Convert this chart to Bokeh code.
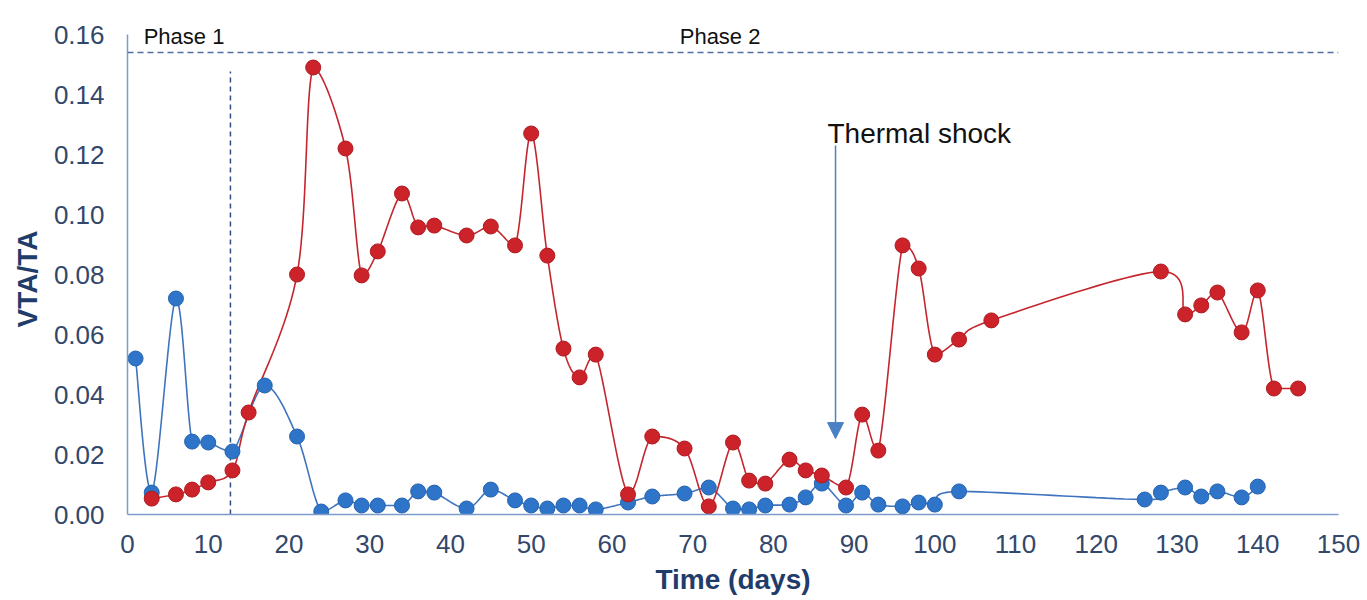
import numpy as np
from bokeh.plotting import figure
from bokeh.models import Range1d, Label, Span, Arrow, NormalHead, NumeralTickFormatter, Title
from bokeh.embed import file_html
from bokeh.resources import INLINE

# ---------------- data ----------------
blue_days = [1, 3, 6, 8, 10, 13, 17, 21, 24, 27, 29, 31, 34, 36, 38, 42, 45, 48, 50, 52, 54, 56, 58,
             62, 65, 69, 72, 75, 77, 79, 82, 84, 86, 89, 91, 93, 96, 98, 100, 103,
             126, 128, 131, 133, 135, 138, 140]
blue_vals = [0.052, 0.0073, 0.072, 0.0243, 0.024, 0.021, 0.043, 0.026, 0.001, 0.0047, 0.003, 0.003,
             0.003, 0.0077, 0.0073, 0.002, 0.0083, 0.0047, 0.003, 0.002, 0.003, 0.003, 0.0017,
             0.004, 0.006, 0.007, 0.009, 0.002, 0.0017, 0.003, 0.0033, 0.0057, 0.0103, 0.003, 0.0073,
             0.0033, 0.0027, 0.004, 0.0033, 0.0077,
             0.005, 0.0073, 0.009, 0.006, 0.0077, 0.0057, 0.0093]

red_days = [3, 6, 8, 10, 13, 15, 21, 23, 27, 29, 31, 34, 36, 38, 42, 45, 48, 50, 52, 54, 56, 58,
            62, 65, 69, 72, 75, 77, 79, 82, 84, 86, 89, 91, 93, 96, 98, 100, 103, 107,
            128, 131, 133, 135, 138, 140, 142, 145]
red_vals = [0.0053, 0.0067, 0.0083, 0.0107, 0.0147, 0.034, 0.080, 0.149, 0.122, 0.0797, 0.0877, 0.107,
            0.0957, 0.0963, 0.093, 0.096, 0.0897, 0.127, 0.0863, 0.0553, 0.0457, 0.0533,
            0.0067, 0.026, 0.022, 0.0027, 0.024, 0.0113, 0.0103, 0.0183, 0.0147, 0.013, 0.009,
            0.0333, 0.0213, 0.0897, 0.082, 0.0533, 0.0583, 0.0647,
            0.081, 0.0667, 0.0697, 0.074, 0.0607, 0.0747, 0.042, 0.042]

x_ticks = [0, 10, 20, 30, 40, 50, 60, 70, 80, 90, 100, 110, 120, 130, 140, 150]
y_ticks = [0.00, 0.02, 0.04, 0.06, 0.08, 0.10, 0.12, 0.14, 0.16]

phase_limit = 0.154        # horizontal dashed line
phase_split_day = 12.75    # vertical dashed line
phase_split_top = 0.1477
shock_day = 87.7
shock_from, shock_to = 0.123, 0.0253


def smooth(xs, ys, n=20):
    """Excel-like smoothed line (Bezier with 1/6 neighbour tangents)."""
    P = np.column_stack([xs, ys]).astype(float)
    outx, outy = [], []
    m = len(P)
    for i in range(m - 1):
        p0 = P[i - 1] if i > 0 else P[i]
        p1, p2 = P[i], P[i + 1]
        p3 = P[i + 2] if i + 2 < m else P[i + 1]
        c1 = p1 + (p2 - p0) / 6.0
        c2 = p2 - (p3 - p1) / 6.0
        lo, hi = min(p1[1], p2[1]), max(p1[1], p2[1])
        c1[1] = min(max(c1[1], lo), hi)
        c2[1] = min(max(c2[1], lo), hi)
        t = np.linspace(0, 1, n, endpoint=False)[:, None]
        b = ((1 - t) ** 3) * p1 + 3 * ((1 - t) ** 2) * t * c1 + 3 * (1 - t) * t ** 2 * c2 + t ** 3 * p2
        outx.extend(b[:, 0]); outy.extend(b[:, 1])
    outx.append(P[-1, 0]); outy.append(P[-1, 1])
    return outx, outy


FONT = "Liberation Sans"
TICK_COLOR = "#32476A"
TITLE_COLOR = "#1F3C6A"
RED = "#CC2229"
BLUE = "#2E74C8"

p = figure(width=1367, height=600, output_backend="svg", toolbar_location=None,
           x_range=Range1d(0, 150), y_range=Range1d(0, 0.17),
           min_border_left=127, min_border_right=29, min_border_top=4, min_border_bottom=86)
p.outline_line_color = None
p.xgrid.grid_line_color = None
p.ygrid.grid_line_color = None
p.background_fill_color = "white"

# axes
p.xaxis.ticker = x_ticks
p.yaxis.ticker = y_ticks
p.yaxis.bounds = (0, 0.16)
p.yaxis.formatter = NumeralTickFormatter(format="0.00")
for ax in (p.xaxis[0], p.yaxis[0]):
    ax.axis_line_color = "#7D9BCB"
    ax.axis_line_width = 1.5
    ax.major_tick_line_color = None
    ax.minor_tick_line_color = None
    ax.major_tick_in = 0
    ax.major_tick_out = 0
    ax.major_label_text_font = FONT
    ax.major_label_text_font_size = "26px"
    ax.major_label_text_color = TICK_COLOR
    ax.axis_label_text_font = FONT
    ax.axis_label_text_font_size = "28px"
    ax.axis_label_text_font_style = "bold"
    ax.axis_label_text_color = TITLE_COLOR
p.xaxis.axis_label = "Time (days)"
p.xaxis.major_label_standoff = 20
p.yaxis.major_label_standoff = 23
p.xaxis.axis_label_standoff = 8

# y axis title, centred on the 0-0.16 axis span
p.add_layout(Title(text="VTA/TA", align="left", offset=187, standoff=15, text_font=FONT,
                   text_font_size="28px", text_font_style="bold", text_color=TITLE_COLOR), "left")

# reference lines
p.add_layout(Span(location=phase_limit, dimension="width", line_color="#4F6FA5",
                  line_dash="6 4", line_width=1.5))
p.segment(x0=[phase_split_day], y0=[0], x1=[phase_split_day], y1=[phase_split_top],
          line_color="#2F4F80", line_dash="5 4", line_width=1.5)

# series lines
bx, by = smooth(blue_days, blue_vals)
rx, ry = smooth(red_days, red_vals)
p.line(bx, by, line_color="#3E74BE", line_width=1.6)
p.line(rx, ry, line_color="#C4262E", line_width=1.6)

# markers
p.scatter(blue_days, blue_vals, size=15, fill_color=BLUE, line_color="#2563AE", line_width=1)
p.scatter(red_days, red_vals, size=15, fill_color=RED, line_color="#AE1B21", line_width=1)

# annotations
p.add_layout(Label(x=2.0, y=0.1593, text="Phase 1", text_font=FONT, text_font_size="22px",
                   text_color="#111111", text_baseline="alphabetic"))
p.add_layout(Label(x=68.4, y=0.1593, text="Phase 2", text_font=FONT, text_font_size="22px",
                   text_color="#111111", text_baseline="alphabetic"))
p.add_layout(Label(x=86.7, y=0.127, text="Thermal shock", text_font=FONT, text_font_size="28px",
                   text_color="#111111", text_baseline="alphabetic"))
p.add_layout(Arrow(end=NormalHead(size=16, fill_color="#4A80C4", line_color="#4A80C4"),
                   x_start=shock_day, y_start=shock_from, x_end=shock_day, y_end=shock_to,
                   line_color="#4A80C4", line_width=1.5))

open("out.html", "w").write(file_html(p, INLINE))
